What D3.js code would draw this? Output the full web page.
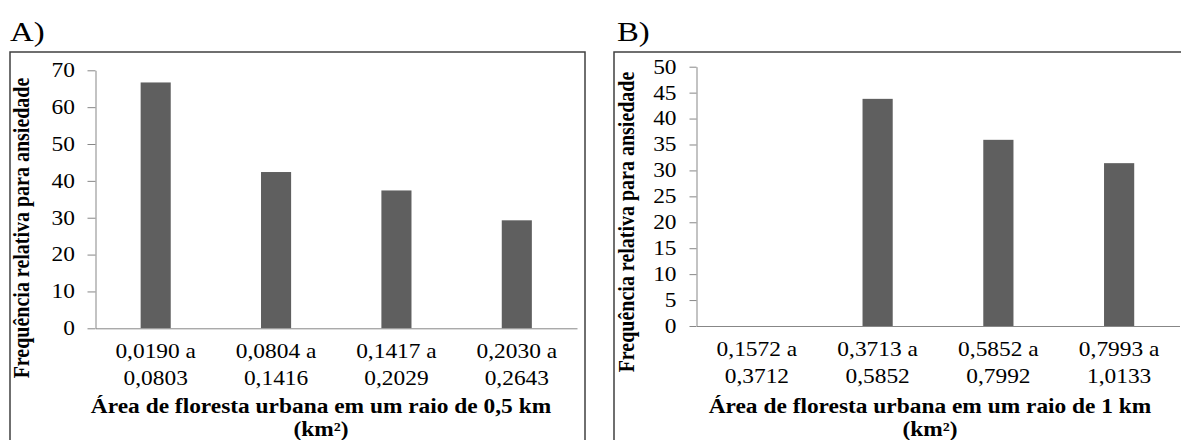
<!DOCTYPE html>
<html>
<head>
<meta charset="utf-8">
<script src="https://cdn.jsdelivr.net/npm/d3@7"></script>
<style>
  body { margin: 0; background: #fff; }
  text { font-family: "Liberation Serif", "Times New Roman", serif; }
</style>
</head>
<body>
<div id="chart"></div>
<script>
// Chart data
const categoriesA = [["0,0190 a", "0,0803"], ["0,0804 a", "0,1416"], ["0,1417 a", "0,2029"], ["0,2030 a", "0,2643"]];
const valuesA = [66.7, 42.4, 37.4, 29.3];
const yTicksA = [0, 10, 20, 30, 40, 50, 60, 70];

const categoriesB = [["0,1572 a", "0,3712"], ["0,3713 a", "0,5852"], ["0,5852 a", "0,7992"], ["0,7993 a", "1,0133"]];
const valuesB = [0, 43.8, 35.9, 31.4];
const yTicksB = [0, 5, 10, 15, 20, 25, 30, 35, 40, 45, 50];

const yTitle = "Frequência relativa para ansiedade";
const xTitleA = ["Área de floresta urbana em um raio de 0,5 km", "(km²)"];
const xTitleB = ["Área de floresta urbana em um raio de 1 km", "(km²)"];

// overall size
const width = 1181;
const height = 440;
const SX = 1.17; // the source text is stretched sideways a bit

const svg = d3.select("#chart")
  .append("svg")
  .attr("width", width)
  .attr("height", height);

svg.append("rect").attr("width", width).attr("height", height).attr("fill", "#fff");

// draws one panel
function drawPanel(p) {
  const g = svg.append("g");

  // frame
  g.append("rect")
    .attr("x", p.box[0]).attr("y", p.box[1])
    .attr("width", p.box[2]).attr("height", p.box[3])
    .attr("fill", "none")
    .attr("stroke", "#404040")
    .attr("stroke-width", 1.5);

  // letter
  g.append("text")
    .attr("transform", `translate(${p.letterX},41) scale(${SX},1)`)
    .attr("font-size", "28px")
    .text(p.letter);

  const y = d3.scaleLinear()
    .domain([0, p.yMax])
    .range([p.y0, p.y1]);

  const x = d3.scaleBand()
    .domain(d3.range(p.values.length))
    .range([p.x0, p.x1])
    .padding(0);

  // y axis
  const ya = g.append("g")
    .attr("transform", `translate(${p.x0},0)`)
    .call(d3.axisLeft(y).tickValues(p.ticks).tickSize(p.tickLen).tickSizeOuter(0));
  ya.select(".domain").attr("stroke", "#878787");
  ya.selectAll(".tick line").attr("stroke", "#878787");
  ya.selectAll(".tick text")
    .attr("x", -p.labelGap / SX)
    .attr("transform", `scale(${SX},1)`)
    .attr("font-size", "20px")
    .attr("fill", "#000")
    .attr("font-family", "Liberation Serif, Times New Roman, serif");

  // bars
  const barW = x.bandwidth() * 0.25;
  g.selectAll(".bar")
    .data(p.values)
    .enter()
    .append("rect")
    .attr("class", "bar")
    .attr("x", (d, i) => x(i) + (x.bandwidth() - barW) / 2)
    .attr("y", d => y(d))
    .attr("width", barW)
    .attr("height", d => y(0) - y(d))
    .attr("fill", "#5f5f5f");

  // x axis
  const xa = g.append("g")
    .attr("transform", `translate(0,${p.y0})`)
    .call(d3.axisBottom(x).tickSize(0).tickSizeOuter(0));
  xa.select(".domain").attr("stroke", "#878787");
  xa.selectAll(".tick text").each(function(i) {
    const t = d3.select(this);
    t.text(null)
      .attr("y", 0).attr("dy", null)
      .attr("transform", `scale(${SX},1)`)
      .attr("font-size", "20px")
      .attr("fill", "#000")
      .attr("font-family", "Liberation Serif, Times New Roman, serif");
    p.categories[i].forEach((line, k) => {
      t.append("tspan").attr("x", 0).attr("y", 30 + k * 26.7).text(line);
    });
  });

  // x title
  p.xTitle.forEach((line, k) => {
    g.append("text")
      .attr("transform", `translate(${p.xTitleX},${413 + k * 23}) scale(${SX},1)`)
      .attr("text-anchor", "middle")
      .attr("font-size", "20px")
      .attr("font-weight", "bold")
      .text(line);
  });

  // y title
  g.append("text")
    .attr("transform", `translate(${p.yTitleX},${p.yTitleY}) scale(${SX},1) rotate(-90)`)
    .attr("text-anchor", "middle")
    .attr("font-size", "20px")
    .attr("font-weight", "bold")
    .text(yTitle);
}

drawPanel({
  letter: "A)", letterX: 10,
  box: [10, 52, 575, 400],
  x0: 95.5, x1: 577, y0: 328.3, y1: 70.3, yMax: 70,
  tickLen: 8, labelGap: 20.5,
  values: valuesA, categories: categoriesA, ticks: yTicksA,
  xTitle: xTitleA, xTitleX: 321,
  yTitleX: 29, yTitleY: 228
});

drawPanel({
  letter: "B)", letterX: 617,
  box: [614, 52, 600, 400],
  x0: 696.5, x1: 1179.5, y0: 326, y1: 66.7, yMax: 50,
  tickLen: 7, labelGap: 20,
  values: valuesB, categories: categoriesB, ticks: yTicksB,
  xTitle: xTitleB, xTitleX: 930,
  yTitleX: 634, yTitleY: 222
});
</script>
</body>
</html>
